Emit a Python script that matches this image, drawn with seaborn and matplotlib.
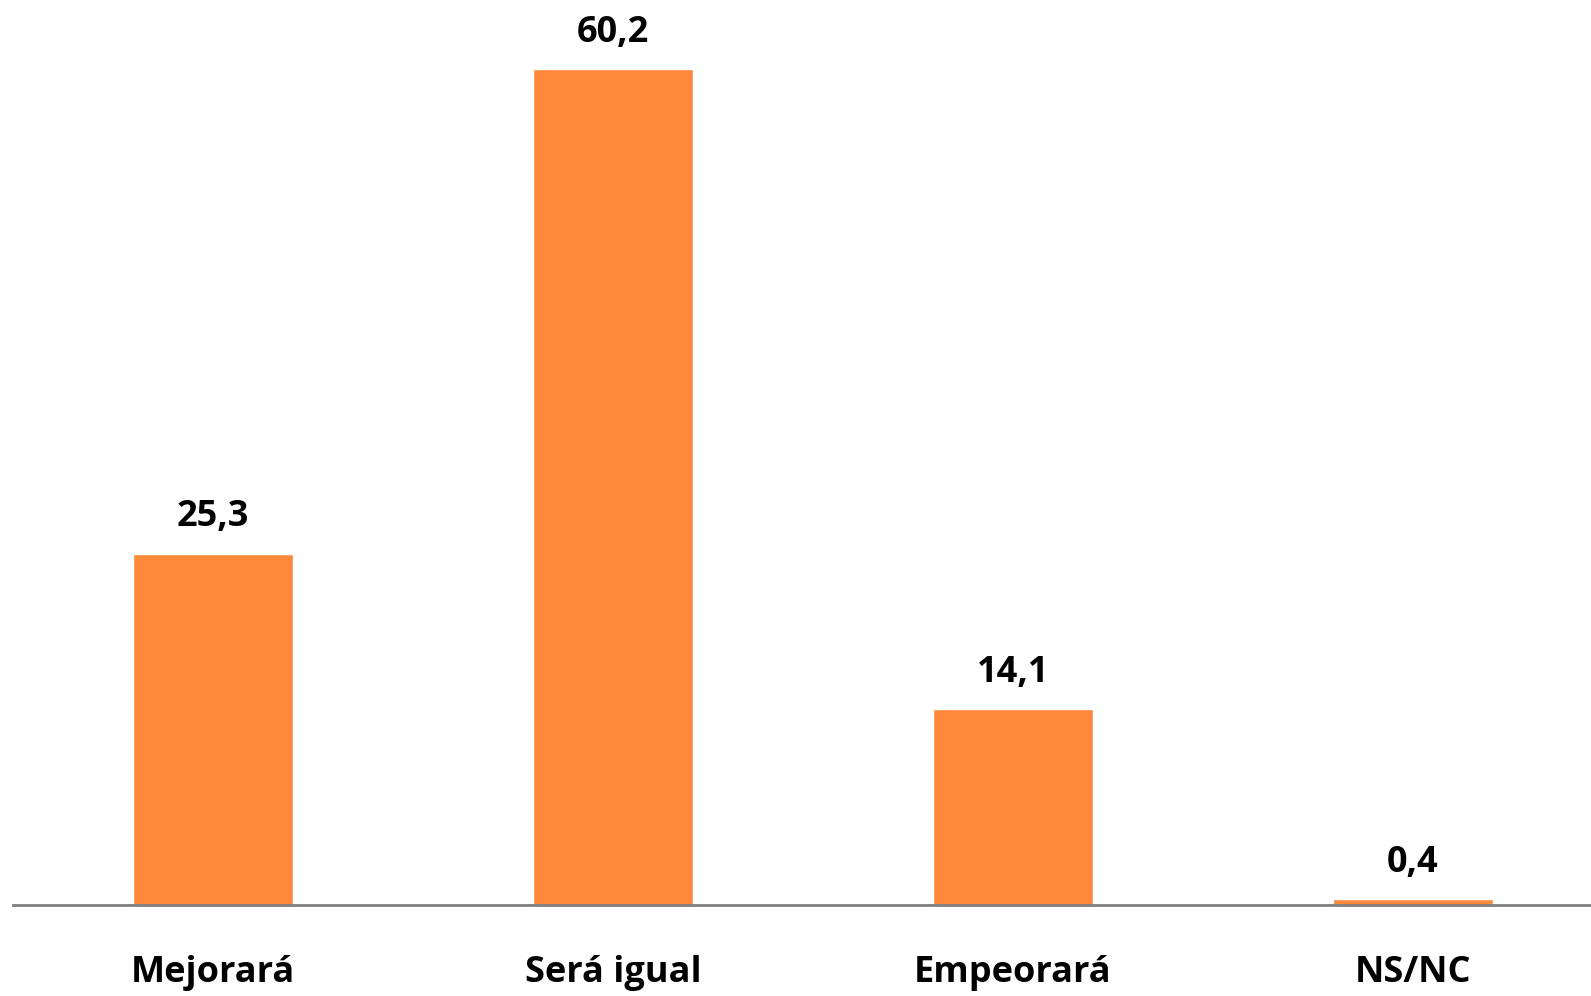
import matplotlib
matplotlib.use("Agg")
import matplotlib.pyplot as plt
import seaborn as sns
import pandas as pd

categories = ["Mejorará", "Será igual", "Empeorará", "NS/NC"]
values = [25.3, 60.2, 14.1, 0.4]
value_labels = ["25,3", "60,2", "14,1", "0,4"]

sns.set_theme(style="white")
plt.rcParams['font.family'] = ['Open Sans', 'DejaVu Sans']

df = pd.DataFrame({"cat": categories, "val": values})
fig = plt.figure(figsize=(15.91, 9.96), dpi=100)
ax = fig.add_axes([13/1591, 1 - 905/996, 1 - 13/1591, 905/996])

sns.barplot(data=df, x="cat", y="val", color="#FE893B", width=0.4, ax=ax,
            saturation=1)

for i, (v, lab) in enumerate(zip(values, value_labels)):
    ax.annotate(lab, (i, v), xytext=(0, 26), textcoords="offset points",
                ha="center", va="center", fontsize=26, fontweight="bold",
                color="black")

ax.set_xlim(-0.5, 3.445)
ax.set_ylim(0, 65.15)
ax.set_xlabel("")
ax.set_ylabel("")
ax.set_yticks([])
for s in ["top", "right", "left"]:
    ax.spines[s].set_visible(False)
ax.spines["bottom"].set_color("#7F7F7F")
ax.spines["bottom"].set_linewidth(2)
ax.tick_params(axis="x", length=0, pad=36, labelsize=26)
for t in ax.get_xticklabels():
    t.set_fontweight("bold")
    t.set_color("black")

fig.savefig("out.png", dpi=100)
